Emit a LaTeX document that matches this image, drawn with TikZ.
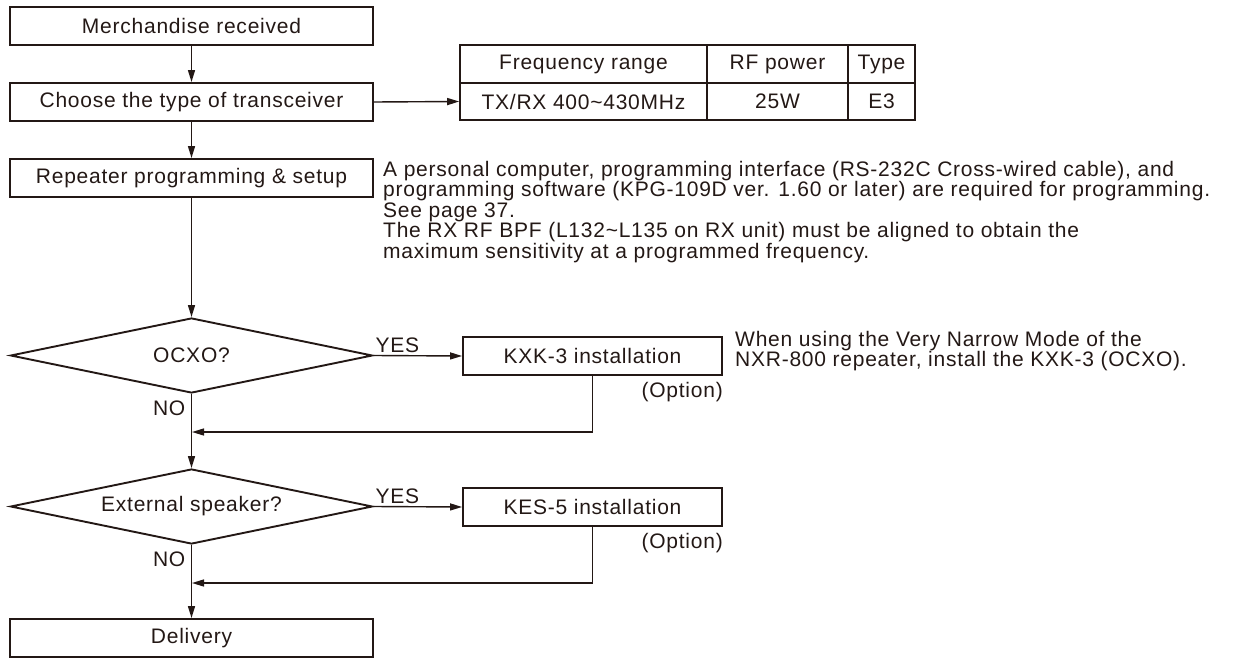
\documentclass[tikz,border=0pt]{standalone}
\usepackage{fontspec}
\setmainfont{Liberation Sans}[LetterSpace=3.6]
\usetikzlibrary{arrows.meta,shapes.geometric}
\definecolor{ink}{HTML}{231815}
\tikzset{
  every node/.style={text=ink, font=\fontsize{21}{19.3}\selectfont},
  stepbox/.style={draw=ink, line width=1.9pt, minimum width=363pt, minimum height=38pt, inner sep=0pt},
  optbox/.style={draw=ink, line width=1.9pt, minimum width=259pt, minimum height=38pt, inner sep=0pt},
  decision/.style={draw=ink, line width=1.9pt, shape=diamond, aspect=4.8, minimum width=362pt, minimum height=75pt, inner sep=0pt},
  cell/.style={draw=ink, line width=1.6pt, minimum height=37.5pt, inner sep=0pt},
  conn/.style={draw=ink, line width=1.4pt},
  arr/.style={conn, -{Triangle[length=12pt,width=7pt]}},
  lbl/.style={inner sep=0pt},
}
\begin{document}
\begin{tikzpicture}[x=1pt,y=-1pt]
\useasboundingbox (0,0) rectangle (1240,658);
% main column
\node[stepbox] (m) at (191.5,26) {Merchandise received};
\node[stepbox] (c) at (191.5,102) {Choose the type of transceiver};
\node[stepbox] (r) at (191.5,178) {Repeater programming \& setup};
\node[decision] (d1) at (191.5,355.5) {OCXO?};
\node[decision] (d2) at (191.5,506.5) {External speaker?};
\node[stepbox] (del) at (191.5,638) {Delivery};
% options
\node[optbox] (kxk) at (592.5,356) {KXK-3 installation};
\node[optbox] (kes) at (592.5,507) {KES-5 installation};
% table
\node[cell, minimum width=247pt] (t11) at (583.5,64) {Frequency range};
\node[cell, minimum width=141pt] (t12) at (777.5,64) {RF power};
\node[cell, minimum width=67pt] (t13) at (881.5,64) {Type};
\node[cell, minimum width=247pt] (t21) at (583.5,101.5) {TX/RX 400\textasciitilde430MHz};
\node[cell, minimum width=141pt] (t22) at (777.5,101.5) {25W};
\node[cell, minimum width=67pt] (t23) at (881.5,101.5) {E3};
% notes
\node[lbl, anchor=north west, align=left, font=\fontsize{21}{18.8}\selectfont] (n1) at (383,161) {A personal computer, programming interface (RS-232C Cross-wired cable), and\\
programming software (KPG-109D ver. 1.60 or later) are required for programming.\\
See page 37.\\
The RX RF BPF (L132\textasciitilde L135 on RX unit) must be aligned to obtain the\\
maximum sensitivity at a programmed frequency.};
\node[lbl, anchor=north west, align=left, font=\fontsize{21}{19.8}\selectfont] (n2) at (735,331) {When using the Very Narrow Mode of the\\
NXR-800 repeater, install the KXK-3 (OCXO).};
% labels
\node[lbl, anchor=south west] (y1) at ([xshift=2pt,yshift=3pt]d1.east) {YES};
\node[lbl, anchor=south west] (y2) at ([xshift=2pt,yshift=3pt]d2.east) {YES};
\node[lbl, anchor=north east] (no1) at ([xshift=-6pt,yshift=-7pt]d1.south) {NO};
\node[lbl, anchor=north east] (no2) at ([xshift=-6pt,yshift=-7pt]d2.south) {NO};
\node[lbl, anchor=north east] (op1) at ([yshift=-6pt]kxk.south east) {(Option)};
\node[lbl, anchor=north east] (op2) at ([yshift=-6pt]kes.south east) {(Option)};
% junctions
\coordinate (j1) at (192,432);
\coordinate (j2) at (192,583);
% connectors
\draw[arr] (m) -- (c);
\draw[arr] (c) -- (r);
\draw[arr] (r) -- (d1);
\draw[arr] (d1) -- (d2);
\draw[arr] (d2) -- (del);
\draw[arr] (c.east) -- (t21.west);
\draw[arr] (d1.east) -- (kxk.west);
\draw[arr] (d2.east) -- (kes.west);
\draw[arr] (kxk.south) |- (j1);
\draw[arr] (kes.south) |- (j2);
\end{tikzpicture}
\end{document}
